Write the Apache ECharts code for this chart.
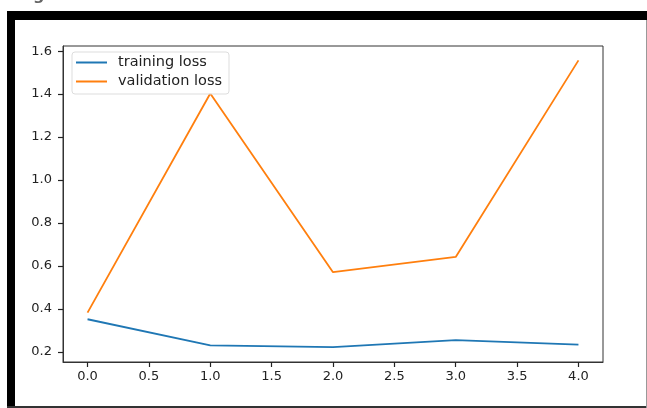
<!DOCTYPE html>
<html>
<head>
<meta charset="utf-8">
<script src="https://cdn.jsdelivr.net/npm/echarts@6/dist/echarts.min.js"></script>
<style>
  html, body { margin: 0; padding: 0; background: #fff; }
  #chart { width: 647px; height: 408px; }
</style>
</head>
<body>
<div id="chart"></div>
<script>
var epochs = [0, 1, 2, 3, 4];
var trainingLoss = [0.352, 0.230, 0.222, 0.255, 0.234];
var validationLoss = [0.383, 1.403, 0.571, 0.642, 1.557];
var xTicks = [0, 0.5, 1, 1.5, 2, 2.5, 3, 3.5, 4];
var yTicks = [0.2, 0.4, 0.6, 0.8, 1.0, 1.2, 1.4, 1.6];

(function () {
  var myechart = echarts.init(document.getElementById("chart"));
  var font = "DejaVu Sans";
  var tickColor = "#222";

  function pairs(ys) {
    return epochs.map(function (x, i) {
      return [x, ys[i]];
    });
  }

  option = {
    animation: false,
    backgroundColor: "#fff",
    textStyle: { fontFamily: font },
    grid: {
      left: 63,
      right: 44,
      top: 46,
      bottom: 46,
      show: true,
      borderColor: "#333",
      borderWidth: 1,
      backgroundColor: "#fff",
    },
    legend: {
      orient: "vertical",
      left: 72,
      top: 52,
      padding: [3, 7, 5, 4],
      itemGap: 4,
      itemWidth: 31,
      itemHeight: 2,
      icon: "rect",
      borderColor: "#ddd",
      borderWidth: 1,
      borderRadius: 3,
      backgroundColor: "rgba(255,255,255,0.8)",
      textStyle: {
        fontFamily: font,
        fontSize: 14.5,
        lineHeight: 14,
        color: "#222",
        padding: [0, 0, 0, 6],
      },
      data: ["training loss", "validation loss"],
    },
    xAxis: {
      type: "value",
      min: -0.2,
      max: 4.2,
      splitLine: { show: false },
      axisLine: { show: true, onZero: false, lineStyle: { color: "#333", width: 1 } },
      axisTick: {
        show: true,
        length: 5,
        customValues: xTicks,
        lineStyle: { color: "#222", width: 1.2 },
      },
      axisLabel: {
        customValues: xTicks,
        margin: 8,
        fontSize: 13,
        color: tickColor,
        fontFamily: font,
        formatter: function (v) {
          return v.toFixed(1);
        },
      },
    },
    yAxis: {
      type: "value",
      min: 0.153,
      max: 1.624,
      splitLine: { show: false },
      axisLine: { show: true, onZero: false, lineStyle: { color: "#333", width: 1 } },
      axisTick: {
        show: true,
        length: 5,
        customValues: yTicks,
        lineStyle: { color: "#222", width: 1.2 },
      },
      axisLabel: {
        customValues: yTicks,
        margin: 11,
        fontSize: 13,
        color: tickColor,
        fontFamily: font,
        formatter: function (v) {
          return v.toFixed(1);
        },
      },
    },
    series: [
      {
        name: "training loss",
        type: "line",
        showSymbol: false,
        color: "#1f77b4",
        lineStyle: { width: 1.8, color: "#1f77b4" },
        data: pairs(trainingLoss),
      },
      {
        name: "validation loss",
        type: "line",
        showSymbol: false,
        color: "#ff7f0e",
        lineStyle: { width: 1.8, color: "#ff7f0e" },
        data: pairs(validationLoss),
      },
    ],
    graphic: [
      // black frame of the screenshot
      { type: "rect", shape: { x: 7, y: 11, width: 640, height: 9 }, style: { fill: "#000" } },
      { type: "rect", shape: { x: 7, y: 11, width: 8, height: 397 }, style: { fill: "#000" } },
      { type: "rect", shape: { x: 7, y: 406, width: 640, height: 2 }, style: { fill: "#333" } },
      { type: "rect", shape: { x: 646, y: 20, width: 1, height: 388 }, style: { fill: "#999" } },
      // clipped text fragment at the top edge
      {
        type: "text",
        left: 33,
        top: -12,
        style: { text: "g", fontSize: 16, fontWeight: "bold", fill: "#666", fontFamily: font },
      },
    ],
  };

  myechart.setOption(option);
  window.addEventListener("resize", function () {
    myechart.resize();
  });
})();
</script>
</body>
</html>
